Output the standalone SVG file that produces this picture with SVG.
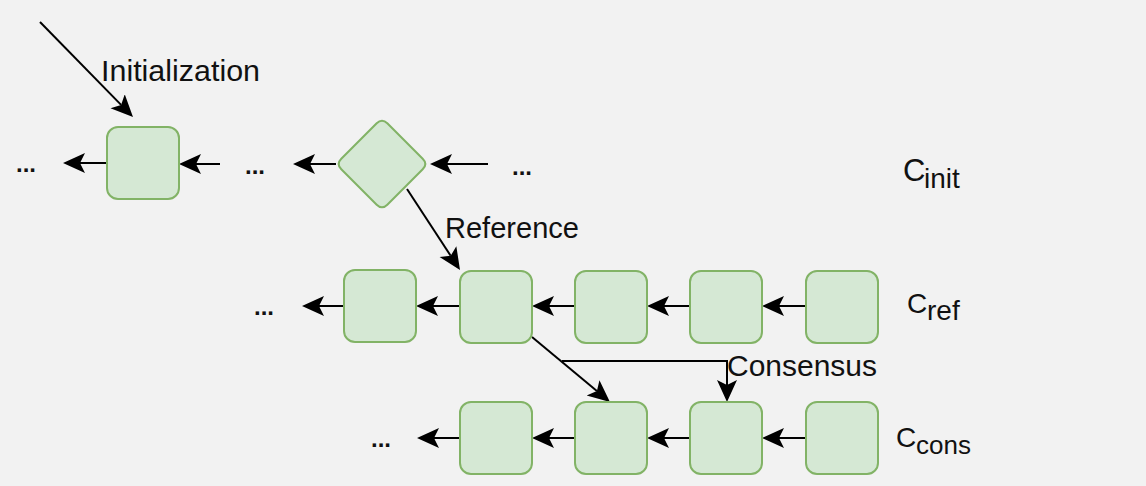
<svg xmlns="http://www.w3.org/2000/svg" width="1146" height="486" viewBox="0 0 1146 486">
  <style>
    .block { fill: #d5e8d4; stroke: #82b366; stroke-width: 2; }
    .edge { fill: none; stroke: #000; stroke-width: 2; marker-end: url(#head); }
    .label { font-family: "Liberation Sans", Arial, sans-serif; font-size: 29px; fill: #111; }
    .dots { font-family: "Liberation Sans", Arial, sans-serif; font-size: 24px; font-weight: bold; fill: #111; }
    .chain { font-family: "Liberation Sans", Arial, sans-serif; fill: #111; }
  </style>
  <defs>
    <!-- classic notched arrowhead; the path ends at the notch -->
    <marker id="head" markerUnits="userSpaceOnUse" markerWidth="24" markerHeight="22" viewBox="0 -11 24 22" refX="5" refY="0" orient="auto">
      <path d="M0,-10 L22,0 L0,10 L5,0 Z" fill="#000"/>
    </marker>
  </defs>

  <rect width="1146" height="486" fill="#f2f2f2"/>

  <!-- connectors -->
  <g id="connectors">
    <!-- initial chain -->
    <path class="edge" d="M40,22 L121.1,104.9"/>
    <path class="edge" d="M107,163 L80,163"/>
    <path class="edge" d="M220,164 L196,164"/>
    <path class="edge" d="M336,164 L310,164"/>
    <path class="edge" d="M488,164 L447,164"/>
    <path class="edge" d="M407,189 L450.7,255.8"/>
    <!-- reference chain -->
    <path class="edge" d="M344,306 L319,306"/>
    <path class="edge" d="M460,306 L433,306"/>
    <path class="edge" d="M575,306 L549,306"/>
    <path class="edge" d="M690,306 L664,306"/>
    <path class="edge" d="M806,306 L779,306"/>
    <path class="edge" d="M532,337 L596.9,391.1"/>
    <path class="edge" d="M562,361 L727,361 L727,385"/>
    <!-- consensus chain -->
    <path class="edge" d="M460,438 L434,438"/>
    <path class="edge" d="M575,438 L549,438"/>
    <path class="edge" d="M690,438 L664,438"/>
    <path class="edge" d="M806,438 L779,438"/>
  </g>

  <!-- initial chain -->
  <g id="init-block"><rect class="block" x="107" y="127" width="72" height="72" rx="11"/></g>
  <g id="init-fork">
    <path class="block" d="M387.3,123.3 L422.7,158.7 Q428,164 422.7,169.3 L387.3,204.7 Q382,210 376.7,204.7 L341.3,169.3 Q336,164 341.3,158.7 L376.7,123.3 Q382,118 387.3,123.3 Z"/>
  </g>

  <!-- reference chain -->
  <g id="ref-1"><rect class="block" x="344" y="270" width="72" height="72" rx="11"/></g>
  <g id="ref-2"><rect class="block" x="460" y="271" width="72" height="72" rx="11"/></g>
  <g id="ref-3"><rect class="block" x="575" y="271" width="72" height="72" rx="11"/></g>
  <g id="ref-4"><rect class="block" x="690" y="271" width="72" height="72" rx="11"/></g>
  <g id="ref-5"><rect class="block" x="806" y="271" width="72" height="72" rx="11"/></g>

  <!-- consensus chain -->
  <g id="cons-1"><rect class="block" x="460" y="402" width="72" height="72" rx="11"/></g>
  <g id="cons-2"><rect class="block" x="575" y="402" width="72" height="72" rx="11"/></g>
  <g id="cons-3"><rect class="block" x="690" y="402" width="72" height="72" rx="11"/></g>
  <g id="cons-4"><rect class="block" x="806" y="402" width="72" height="72" rx="11"/></g>

  <!-- edge labels -->
  <g id="labels">
    <text class="label" x="101" y="81" textLength="159" lengthAdjust="spacingAndGlyphs">Initialization</text>
    <text class="label" x="445" y="238" textLength="134" lengthAdjust="spacingAndGlyphs">Reference</text>
    <text class="label" x="727" y="376" textLength="150" lengthAdjust="spacingAndGlyphs">Consensus</text>
  </g>

  <!-- continuation marks -->
  <g id="ellipses">
    <text class="dots" x="16" y="172">...</text>
    <text class="dots" x="245" y="174">...</text>
    <text class="dots" x="512" y="175">...</text>
    <text class="dots" x="254" y="315">...</text>
    <text class="dots" x="371" y="447">...</text>
  </g>

  <!-- chain names -->
  <g id="chain-names">
    <text class="chain" x="903" y="181" font-size="31">C<tspan x="924" y="188" font-size="28">init</tspan></text>
    <text class="chain" x="907" y="313" font-size="28">C<tspan x="927" y="320" font-size="28">ref</tspan></text>
    <text class="chain" x="896" y="447" font-size="28">C<tspan x="916" y="454" font-size="26">cons</tspan></text>
  </g>
</svg>
